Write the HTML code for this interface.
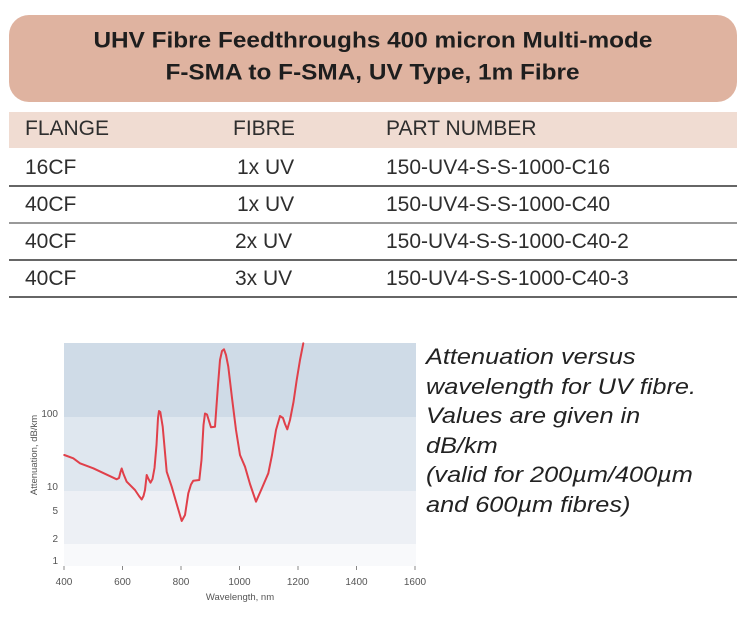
<!DOCTYPE html>
<html><head><meta charset="utf-8"><style>
html,body{margin:0;padding:0;background:#fff;width:747px;height:628px;overflow:hidden;position:relative;font-family:"Liberation Sans",sans-serif;color:#222}
.banner{position:absolute;left:9px;top:15px;width:728px;height:87px;background:#dfb3a0;border-radius:20px;text-align:center;font-weight:bold;font-size:21px;line-height:32px;color:#1e1e1e;box-sizing:border-box;padding-top:10px}
.banner span{display:inline-block;transform:scale(1.16,1.05)}
.hdr{position:absolute;left:9px;top:112px;width:728px;height:36px;background:#f0dcd2}
.t{position:absolute;font-size:21px;color:#2e2e2e;white-space:nowrap;transform:scaleX(1.0);transform-origin:left}
.line{position:absolute;left:9px;width:728px;height:2px;background:#666}
.cap{position:absolute;left:426px;top:342px;font-style:italic;font-size:22px;line-height:29.5px;color:#222;transform:scaleX(1.15);transform-origin:left;white-space:nowrap}
</style></head><body>
<div class="banner"><span>UHV Fibre Feedthroughs 400 micron Multi-mode</span><br><span>F-SMA to F-SMA, UV Type, 1m Fibre</span></div>
<div class="hdr"></div>
<div class="t" style="left:25px;top:117px">FLANGE</div>
<div class="t" style="left:233px;top:117px">FIBRE</div>
<div class="t" style="left:386px;top:117px">PART NUMBER</div>
<div class="t" style="left:25px;top:156px">16CF</div><div class="t" style="left:237px;top:156px">1x UV</div><div class="t" style="left:386px;top:156px">150-UV4-S-S-1000-C16</div>
<div class="line" style="top:185px"></div>
<div class="t" style="left:25px;top:193px">40CF</div><div class="t" style="left:237px;top:193px">1x UV</div><div class="t" style="left:386px;top:193px">150-UV4-S-S-1000-C40</div>
<div class="line" style="top:222px;background:#999"></div>
<div class="t" style="left:25px;top:230px">40CF</div><div class="t" style="left:235px;top:230px">2x UV</div><div class="t" style="left:386px;top:230px">150-UV4-S-S-1000-C40-2</div>
<div class="line" style="top:259px"></div>
<div class="t" style="left:25px;top:267px">40CF</div><div class="t" style="left:235px;top:267px">3x UV</div><div class="t" style="left:386px;top:267px">150-UV4-S-S-1000-C40-3</div>
<div class="line" style="top:296px"></div>

<svg style="position:absolute;left:0;top:0" width="747" height="628">
<rect x="64" y="343" width="352" height="74" fill="#cfdbe7"/>
<rect x="64" y="417" width="352" height="74" fill="#dfe7ef"/>
<rect x="64" y="491" width="352" height="53" fill="#edf0f5"/>
<rect x="64" y="544" width="352" height="22" fill="#f8f9fb"/>
<g font-family="Liberation Sans,sans-serif" font-size="10" fill="#555">
<text x="64" y="585" text-anchor="middle">400</text>
<text x="122.5" y="585" text-anchor="middle">600</text>
<text x="181" y="585" text-anchor="middle">800</text>
<text x="239.5" y="585" text-anchor="middle">1000</text>
<text x="298" y="585" text-anchor="middle">1200</text>
<text x="356.5" y="585" text-anchor="middle">1400</text>
<text x="415" y="585" text-anchor="middle">1600</text>
<text x="240" y="600" text-anchor="middle" font-size="9.5">Wavelength, nm</text>
<text x="58" y="417" text-anchor="end">100</text>
<text x="58" y="490" text-anchor="end">10</text>
<text x="58" y="514" text-anchor="end">5</text>
<text x="58" y="542" text-anchor="end">2</text>
<text x="58" y="564" text-anchor="end">1</text>
<text transform="translate(37,455) rotate(-90)" text-anchor="middle" font-size="9.5">Attenuation, dB/km</text>
</g>
<g stroke="#888" stroke-width="1">
<line x1="64" y1="566" x2="64" y2="570"/><line x1="122.5" y1="566" x2="122.5" y2="570"/><line x1="181" y1="566" x2="181" y2="570"/><line x1="239.5" y1="566" x2="239.5" y2="570"/><line x1="298" y1="566" x2="298" y2="570"/><line x1="356.5" y1="566" x2="356.5" y2="570"/><line x1="415" y1="566" x2="415" y2="570"/>
</g>
<polyline fill="none" stroke="#e0404a" stroke-width="2" stroke-linejoin="round" stroke-linecap="round" points="64.3,455 73.3,458.3 80,463.3 93.3,468.3 116.7,479.3 119,478 120.5,472 121.7,468.5 123.5,474 126.7,481.7 135,490 139,496 141.7,499.5 143.5,496 145,490 146.7,475 148.5,479 150.5,482.7 152.5,479 154.5,468 156.5,445 158,418 159,411 160.3,412 162.7,426.7 166.7,471.7 171.7,486.7 177,505 181.7,521 185,515 188.3,493.3 191,484.5 193.3,480.7 199.3,480 201.5,460 203.5,425 205,413.5 207,414.5 209,421 211,427.3 215,426.7 218,385 220,360 222,351 224,349.3 226,355 228.3,366.7 232,398 236,430 240,455 245,466.7 250,484 256,501.7 262,488 268.3,473.3 272,455 276,430 280,416 283,418 285,424 287.3,429.3 290,420 293.5,402 296.7,380 300,360 303.3,343.3"/>
</svg>
<div class="cap">Attenuation versus<br>wavelength for UV fibre.<br>Values are given in<br>dB/km<br>(valid for 200µm/400µm<br>and 600µm fibres)</div>
</body></html>
